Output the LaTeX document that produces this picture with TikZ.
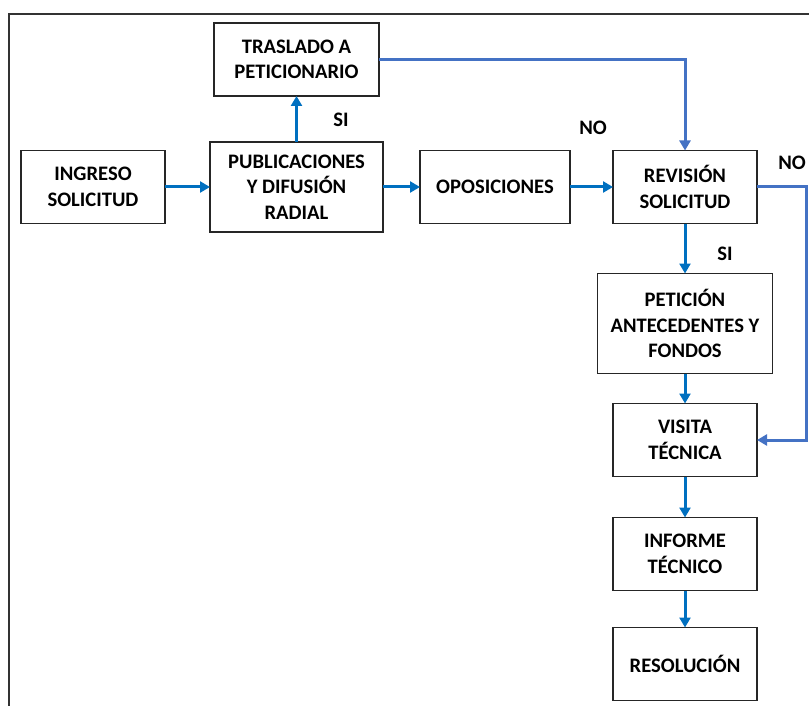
\documentclass[tikz,border=0pt]{standalone}
\usepackage{fontspec}
\setmainfont{Carlito}
\usepackage{tikz}
\usetikzlibrary{arrows.meta, positioning}
\definecolor{flowblue}{HTML}{0070C0}
\definecolor{linkblue}{HTML}{4472C4}
\tikzstyle{flow}=[-{Triangle[length=5pt,width=5.5pt]}, line width=1.5pt, color=flowblue]

\begin{document}
\begin{tikzpicture}[x=0.5pt, y=-0.5pt,
  pbox/.style={rectangle, draw=black!85, line width=0.7pt, inner sep=0pt, outer sep=0pt,
               minimum width=72pt, minimum height=36.5pt, align=center,
               font=\fontsize{10.3}{12.8}\selectfont\bfseries},
  lbl/.style={font=\fontsize{10.3}{12}\selectfont\bfseries, inner sep=0pt}
]
\useasboundingbox (0,0) rectangle (809,706);
\clip (0,0) rectangle (809,706);
% outer frame
\draw[black!80, line width=1pt] (8.5,720) -- (8.5,14.5) -- (830,14.5);

\node[pbox] (ingreso) at (93,187) {INGRESO\\SOLICITUD};
\node[pbox, minimum width=86.5pt, minimum height=45pt, right=22.5pt of ingreso] (pub)
     {PUBLICACIONES\\Y DIFUSIÓN\\RADIAL};
\node[pbox, minimum width=75pt, right=18.5pt of pub] (opos) {OPOSICIONES};
\node[pbox, right=21.5pt of opos] (rev) {REVISIÓN\\SOLICITUD};
\node[pbox, minimum width=82.5pt, above=23pt of pub] (tras) {TRASLADO A\\PETICIONARIO};
\node[pbox, minimum width=87.5pt, minimum height=50pt, below=25pt of rev] (pet)
     {PETICIÓN\\ANTECEDENTES Y\\FONDOS};
\node[pbox, below=15pt of pet] (vis) {VISITA\\TÉCNICA};
\node[pbox, below=20.5pt of vis] (inf) {INFORME\\TÉCNICO};
\node[pbox, below=18.5pt of inf] (res) {RESOLUCIÓN};

\node[lbl] (si_up)   at (341,120) {SI};
\node[lbl] (no_top)  at (593,128) {NO};
\node[lbl] (no_side) at (792,163) {NO};
\node[lbl] (si_down) at (725,254) {SI};

\draw[flow] (ingreso) -- (pub);
\draw[flow] (pub) -- (opos);
\draw[flow] (opos) -- (rev);
\draw[flow] (pub) -- (tras);
\draw[flow, color=linkblue] (tras.east) -| (rev.north);
\draw[flow, color=linkblue] (rev.east) -- ++(49,0) |- (vis.east);
\draw[flow] (rev) -- (pet);
\draw[flow] (pet) -- (vis);
\draw[flow] (vis) -- (inf);
\draw[flow] (inf) -- (res);
\end{tikzpicture}
\end{document}
